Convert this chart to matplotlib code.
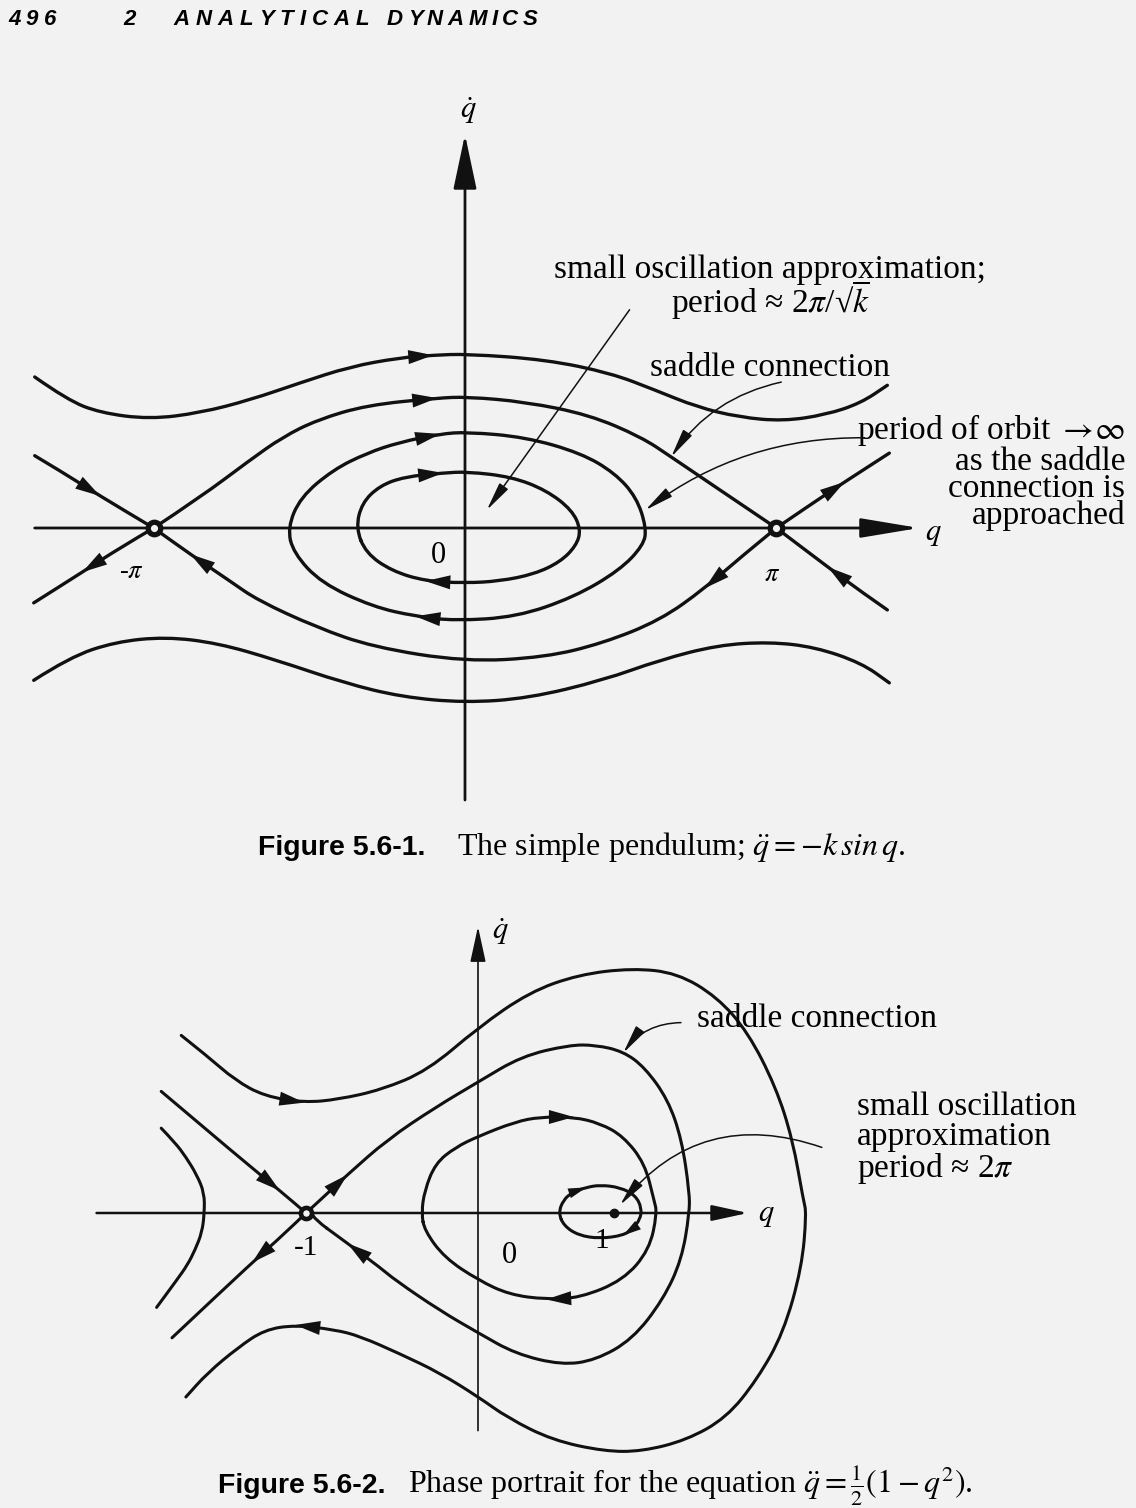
import matplotlib
matplotlib.use('Agg')
from matplotlib import pyplot as plt
from matplotlib.path import Path
from matplotlib.patches import PathPatch

plt.rcParams['mathtext.fontset'] = 'stix'
plt.rcParams['font.family'] = ['Liberation Serif', 'DejaVu Serif']

W, H = 1136, 1508
BG = '#f2f2f2'
INK = '#111111'
SANS = ['Liberation Sans', 'DejaVu Sans']

# ---------- Figure 5.6-1: simple pendulum (q in rad, qdot in units of sqrt(k)) ----------
outer_top_q = [-4.34, -4.01, -3.68, -3.18, -2.67, -2.17, -1.66, -1.16, -0.66, -0.32, 0.02,
               0.82, 1.47, 1.91, 2.34, 2.77, 3.21, 3.64, 3.99, 4.26]
outer_top_v = [2.36, 2.00, 1.80, 1.70, 1.80, 2.00, 2.27, 2.52, 2.66, 2.70, 2.72,
               2.63, 2.42, 2.16, 1.89, 1.73, 1.67, 1.77, 1.95, 2.23]
outer_bot_q = [-4.35, -3.99, -3.53, -3.02, -2.49, -1.91, -1.22, -0.64, 0.00, 0.64, 1.39,
               1.97, 2.55, 3.07, 3.53, 4.00, 4.28]
outer_bot_v = [-2.38, -2.02, -1.78, -1.70, -1.80, -2.06, -2.42, -2.64, -2.73, -2.66, -2.38,
               -2.06, -1.83, -1.78, -1.86, -2.11, -2.42]
sep_top_q = [-3.14, -2.67, -2.17, -1.84, -1.49, -0.99, -0.28, 0.02, 0.61, 1.25, 1.78, 2.08, 2.47, 3.14]
sep_top_v = [0.00, 0.48, 1.06, 1.42, 1.69, 1.92, 2.03, 2.05, 1.97, 1.77, 1.42, 1.11, 0.70, 0.00]
sep_bot_q = [3.14, 2.77, 2.42, 1.97, 1.39, 0.81, 0.00, -0.93, -1.50, -2.09, -2.37, -2.77, -3.14]
sep_bot_v = [0.00, -0.47, -0.94, -1.44, -1.80, -2.02, -2.09, -1.86, -1.55, -1.13, -0.83, -0.41, 0.00]
in_left_q, in_left_v = [-4.34, -4.08, -3.68, -3.14], [1.13, 0.89, 0.50, 0.00]
out_left_q, out_left_v = [-3.14, -3.48, -3.86, -4.35], [0.00, -0.31, -0.69, -1.17]
out_right_q, out_right_v = [3.14, 3.48, 3.83, 4.28], [0.00, 0.36, 0.72, 1.17]
in_right_q, in_right_v = [4.26, 4.00, 3.66, 3.14], [-1.28, -1.00, -0.61, 0.00]
orbit_big_q = [-1.79, -1.66, -1.33, -0.99, -0.66, -0.25, 0.02, 0.61, 1.17, 1.51, 1.73, 1.83,
               1.80, 1.56, 1.10, 0.52, -0.10, -0.50, -0.93, -1.45, -1.73, -1.79]
orbit_big_v = [0.00, 0.48, 0.91, 1.17, 1.34, 1.47, 1.50, 1.42, 1.17, 0.86, 0.48, 0.00,
               -0.27, -0.66, -1.08, -1.39, -1.45, -1.38, -1.23, -0.86, -0.39, 0.00]
orbit_small_q = [-1.10, -1.04, -0.86, -0.61, -0.22, 0.02, 0.47, 0.82, 1.08, 1.17, 1.12, 0.96,
                 0.70, 0.35, 0.00, -0.40, -0.74, -1.00, -1.10]
orbit_small_v = [0.00, 0.39, 0.66, 0.80, 0.86, 0.88, 0.80, 0.59, 0.28, -0.03, -0.28, -0.53,
                 -0.72, -0.83, -0.86, -0.83, -0.67, -0.39, 0.00]
saddles1_q = [-3.14, 3.14]

# ---------- Figure 5.6-2: qddot = (1 - q^2)/2 ----------
outer2_q = [-1.81, -1.64, -1.46, -1.27, -1.01, -0.79, -0.51, -0.21, 0.12, 0.45, 0.77, 1.12, 1.41,
            1.67, 1.87, 2.05, 2.16, 2.23, 2.25, 2.22, 2.10, 1.93, 1.73, 1.47, 1.18, 0.94, 0.60,
            0.31, 0.12, -0.13, -0.39, -0.65, -0.81, -1.07, -1.27, -1.44, -1.64, -1.78]
outer2_v = [1.11, 0.98, 0.83, 0.73, 0.69, 0.71, 0.77, 0.89, 1.16, 1.38, 1.49, 1.53, 1.50,
            1.35, 1.13, 0.79, 0.46, 0.08, 0.00, -0.34, -0.75, -1.04, -1.28, -1.42, -1.49, -1.49, -1.42,
            -1.28, -1.15, -1.00, -0.88, -0.77, -0.73, -0.70, -0.73, -0.84, -1.00, -1.15]
sep2_q = [-1.00, -0.92, -0.73, -0.47, -0.16, 0.12, 0.40, 0.71, 0.88, 1.06, 1.20, 1.35, 1.44, 1.49,
          1.49, 1.44, 1.32, 1.12, 0.88, 0.66, 0.36, 0.12, -0.13, -0.42, -0.52, -0.73, -1.00]
sep2_v = [0.00, 0.07, 0.24, 0.46, 0.66, 0.82, 0.98, 1.05, 1.05, 1.01, 0.91, 0.71, 0.46, 0.13,
          0.00, -0.29, -0.54, -0.79, -0.92, -0.95, -0.88, -0.75, -0.61, -0.42, -0.34, -0.19, 0.00]
in2_q, in2_v = [-1.94, -1.40, -1.17, -1.00], [0.76, 0.32, 0.14, 0.00]
out2_q, out2_v = [-1.00, -1.14, -1.35, -1.87], [0.00, -0.13, -0.31, -0.78]
left2_q = [-1.94, -1.85, -1.78, -1.71, -1.66, -1.66, -1.675, -1.72, -1.77, -1.84, -1.97]
left2_v = [0.53, 0.44, 0.35, 0.24, 0.125, 0.00, -0.12, -0.23, -0.325, -0.42, -0.59]
med2_q = [-0.25, -0.23, -0.16, -0.03, 0.12, 0.36, 0.52, 0.74, 0.91, 1.06, 1.20, 1.26, 1.28,
          1.23, 1.06, 0.78, 0.56, 0.32, 0.12, -0.10, -0.23, -0.25]
med2_v = [0.00, 0.14, 0.31, 0.41, 0.48, 0.57, 0.60, 0.60, 0.56, 0.48, 0.31, 0.08, 0.00,
          -0.23, -0.42, -0.53, -0.54, -0.51, -0.42, -0.28, -0.11, 0.00]
small2_q = [0.64, 0.67, 0.73, 0.82, 0.91, 1.04, 1.14, 1.18, 1.17, 1.12, 1.06, 0.91, 0.77, 0.675, 0.64]
small2_v = [0.00, 0.08, 0.13, 0.16, 0.175, 0.16, 0.11, 0.03, -0.04, -0.10, -0.14, -0.16, -0.14, -0.08, 0.00]
saddle2_q, center2_q = [-1.0], [1.0]


def smooth(q, v):
    # quadratic pieces through the midpoints of the traced points (drawn by Path)
    pts = list(zip(q, v))
    mid = lambda a, b: ((a[0] + b[0]) / 2, (a[1] + b[1]) / 2)
    if pts[0] == pts[-1]:
        pts = pts[:-1]
        n = len(pts)
        verts, codes = [mid(pts[-1], pts[0])], [Path.MOVETO]
        for i in range(n):
            verts += [pts[i], mid(pts[i], pts[(i + 1) % n])]
            codes += [Path.CURVE3, Path.CURVE3]
        return Path(verts, codes)
    verts, codes = [pts[0]], [Path.MOVETO]
    for i in range(1, len(pts) - 1):
        verts += [pts[i], mid(pts[i], pts[i + 1])]
        codes += [Path.CURVE3, Path.CURVE3]
    verts.append(pts[-1])
    codes.append(Path.LINETO)
    return Path(verts, codes)


def curve(ax, q, v, tips=(), lw=2.4, ms=18):
    ax.add_patch(PathPatch(smooth(q, v), fill=False, ec=INK, lw=lw,
                           capstyle='round', joinstyle='round'))
    for i in tips:
        ax.annotate('', xy=(q[i], v[i]), xytext=(q[i - 1], v[i - 1]),
                    arrowprops=dict(arrowstyle='-|>,head_length=1.0,head_width=0.28',
                                    mutation_scale=ms, lw=0, color=INK, shrinkA=0, shrinkB=0))


def axis_arrow(ax, start, tip, lw, hl, hw):
    ax.annotate('', xy=tip, xytext=start,
                arrowprops=dict(arrowstyle=f'-|>,head_length={hl},head_width={hw}',
                                mutation_scale=20, lw=lw, color=INK, shrinkA=0, shrinkB=0))


def pointer(ax, start, tip, rad=0.0):
    ax.annotate('', xy=tip, xytext=start,
                arrowprops=dict(arrowstyle='-|>,head_length=1.1,head_width=0.2',
                                mutation_scale=16, lw=1.1, color=INK, shrinkA=0, shrinkB=0,
                                connectionstyle=f'arc3,rad={rad}'))


fig = plt.figure(figsize=(W / 100, H / 100), dpi=100, facecolor=BG)

# ---------------- panel 1 ----------------
ax1 = fig.add_axes([0, (H - 820) / H, 1, 760 / H])
ax1.set_xlim(-4.690, 6.768)
ax1.set_ylim(-4.5625, 7.3125)
ax1.axis('off')

axis_arrow(ax1, (-4.34, 0), (4.58, 0), 2.0, 1.8, 0.3)
axis_arrow(ax1, (0, -4.25), (0, 6.15), 2.0, 1.7, 0.36)

curve(ax1, outer_top_q, outer_top_v, tips=[9])
curve(ax1, outer_bot_q, outer_bot_v)
curve(ax1, sep_top_q, sep_top_v, tips=[6])
curve(ax1, sep_bot_q, sep_bot_v, tips=[2, 11])
curve(ax1, in_left_q, in_left_v, tips=[2])
curve(ax1, out_left_q, out_left_v, tips=[2])
curve(ax1, out_right_q, out_right_v, tips=[2])
curve(ax1, in_right_q, in_right_v, tips=[2])
curve(ax1, orbit_big_q, orbit_big_v, tips=[5, 17])
curve(ax1, orbit_small_q, orbit_small_v, tips=[4, 15])
ax1.plot(saddles1_q, [0, 0], 'o', ms=9, mfc=BG, mec=INK, mew=3.8, zorder=5)

ax1.text(0.03, 6.41, r'$\dot{q}$', size=22, ha='center', va='baseline')
ax1.text(4.72, -0.19, r'$q$', size=22, ha='center', va='baseline')
ax1.text(-0.27, -0.55, '0', size=22, ha='center', va='baseline')
ax1.text(-3.36, -0.78, r'-$\pi$', size=19, ha='center', va='baseline')
ax1.text(3.10, -0.83, r'$\pi$', size=19, ha='center', va='baseline')

# multi-line texts: va='baseline' puts the last line on the given height
ax1.text(3.08, 3.36, 'small oscillation approximation;\n' + r'period ≈ 2$\pi$/√$\overline{k}$',
         size=24, ha='center', va='baseline', multialignment='center', linespacing=0.82)
pointer(ax1, (1.66, 3.41), (0.22, 0.28))
ax1.text(3.08, 2.375, 'saddle connection', size=24, ha='center', va='baseline')
pointer(ax1, (3.19, 2.28), (2.08, 1.11), rad=0.2)
ax1.text(6.66, 1.383, 'period of orbit ' + r'$\rightarrow\!\infty$',
         size=24, ha='right', va='baseline')
ax1.text(6.66, 0.055, 'as the saddle\nconnection is\napproached',
         size=24, ha='right', va='baseline', multialignment='right', linespacing=0.86)
pointer(ax1, (4.03, 1.41), (1.82, 0.28), rad=0.17)

# ---------------- panel 2 ----------------
ax2 = fig.add_axes([0, 48 / H, 1, 580 / H])
ax2.set_xlim(-2.987, 4.390)
ax2.set_ylim(-1.54375, 2.08125)
ax2.axis('off')

axis_arrow(ax2, (-2.36, 0), (1.87, 0), 1.8, 1.1, 0.24)
axis_arrow(ax2, (0.117, -1.36), (0.117, 1.79), 1.2, 1.1, 0.24)

curve(ax2, outer2_q, outer2_v, tips=[4, 33], lw=2.2)
curve(ax2, sep2_q, sep2_v, tips=[2, 25], lw=2.2)
curve(ax2, in2_q, in2_v, tips=[2], lw=2.2)
curve(ax2, out2_q, out2_v, tips=[2], lw=2.2)
curve(ax2, left2_q, left2_v, lw=2.2)
curve(ax2, med2_q, med2_v, tips=[7, 16], lw=2.2)
curve(ax2, small2_q, small2_v, tips=[3, 10], lw=2.2, ms=13)
ax2.plot(saddle2_q, [0], 'o', ms=8, mfc=BG, mec=INK, mew=3.3, zorder=5)
ax2.plot(center2_q, [0], 'o', ms=6, color=INK, zorder=5)

ax2.text(0.26, 1.71, r'$\dot{q}$', size=22, ha='center', va='baseline')
ax2.text(1.99, -0.05, r'$q$', size=22, ha='center', va='baseline')
ax2.text(-1.00, -0.26, '-1', size=21, ha='center', va='baseline')
ax2.text(0.32, -0.31, '0', size=22, ha='center', va='baseline')
ax2.text(0.92, -0.22, '1', size=21, ha='center', va='baseline')

ax2.text(1.54, 1.16, 'saddle connection', size=24, ha='left', va='baseline')
pointer(ax2, (1.435, 1.19), (1.06, 1.00), rad=0.25)
ax2.text(2.58, 0.225, 'small oscillation\napproximation\n' + r'period ≈ 2$\pi$',
         size=24, ha='left', va='baseline', multialignment='left', linespacing=0.97)
pointer(ax2, (2.35, 0.41), (1.04, 0.05), rad=0.35)

# ---------------- page header and captions ----------------
renderer = fig.canvas.get_renderer()


def spaced(x, y, s, gap, **kw):
    for ch in s:
        t = fig.text(x / W, 1 - y / H, ch, va='baseline', **kw)
        x += t.get_window_extent(renderer).width + gap


head = dict(family=SANS, style='italic', weight='bold', size=16)
spaced(8, 25, '496', 5.5, **head)
spaced(123, 25, '2', 0, **head)
spaced(173, 25, 'ANALYTICAL', 6, **head)
spaced(387, 25, 'DYNAMICS', 4.5, **head)

fig.text(258 / W, 1 - 855 / H, 'Figure 5.6-1.', family=SANS, weight='bold', size=20.5, va='baseline')
fig.text(457 / W, 1 - 855 / H, r'The simple pendulum; $\ddot{q}=-k\,sin\,q$.', size=23, va='baseline')
fig.text(218 / W, 1 - 1493 / H, 'Figure 5.6-2.', family=SANS, weight='bold', size=20.5, va='baseline')
fig.text(408 / W, 1 - 1493 / H, r'Phase portrait for the equation $\ddot{q}=\frac{1}{2}(1-q^2)$.',
         size=23, va='baseline')

fig.savefig('out.png', dpi=100, facecolor=BG)
